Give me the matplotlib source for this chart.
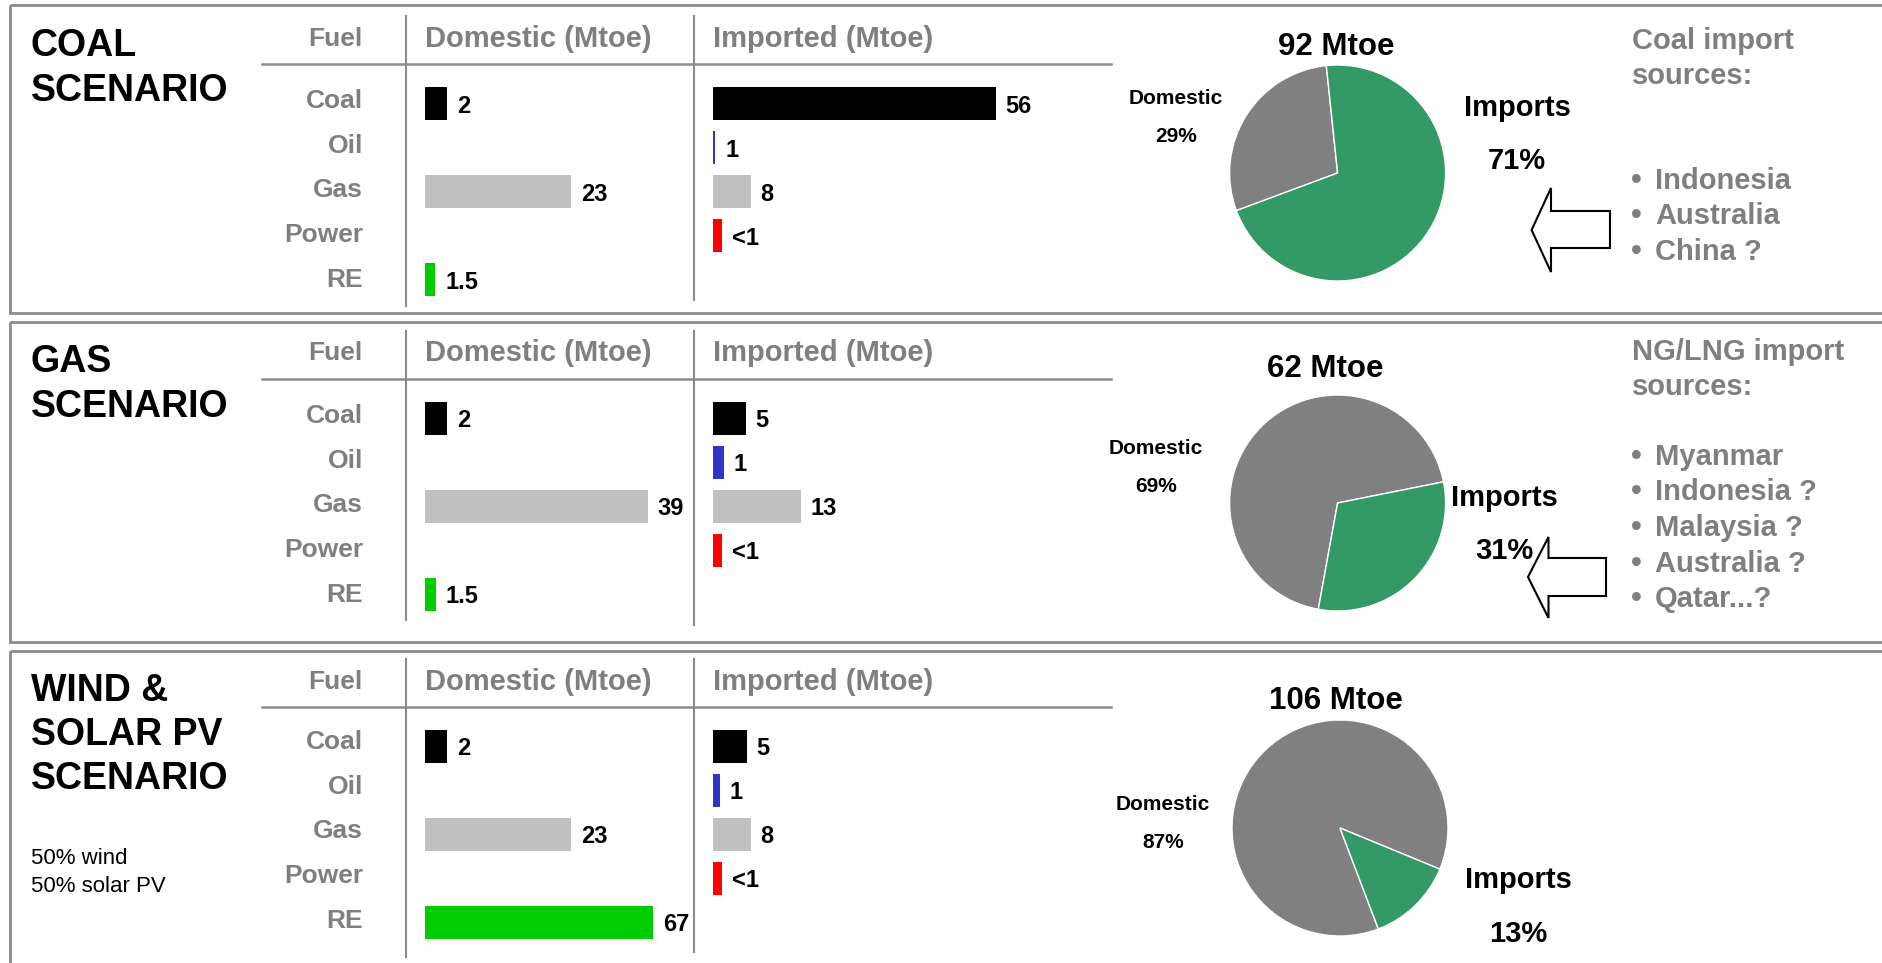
import matplotlib
matplotlib.use("Agg")
import matplotlib.pyplot as plt
from matplotlib.patches import Rectangle, Polygon

plt.rcParams['font.family'] = ['Liberation Sans', 'DejaVu Sans']

# ---- data ----
fuels = ["Coal", "Oil", "Gas", "Power", "RE"]
fuel_colors = ["#000000", "#3333cc", "#c0c0c0", "#ff0000", "#00cc00"]

titles = [["COAL", "SCENARIO"], ["GAS", "SCENARIO"], ["WIND &", "SOLAR PV", "SCENARIO"]]

# bar lengths as drawn (the slide does not draw them to one scale) and their labels
dom_len_coal = [4.4, 0, 29.2, 0, 2.1]
dom_len_gas = [4.4, 0, 44.6, 0, 2.2]
dom_len_wind = [4.4, 0, 29.2, 0, 45.6]
dom_txt_coal = ["2", "", "23", "", "1.5"]
dom_txt_gas = ["2", "", "39", "", "1.5"]
dom_txt_wind = ["2", "", "23", "", "67"]

imp_len_coal = [56.6, 0.5, 7.6, 1.8, 0]
imp_len_gas = [6.6, 2.2, 17.6, 1.8, 0]
imp_len_wind = [6.8, 1.4, 7.6, 1.8, 0]
imp_txt_coal = ["56", "1", "8", "<1", ""]
imp_txt_gas = ["5", "1", "13", "<1", ""]
imp_txt_wind = ["5", "1", "8", "<1", ""]

totals = [92, 62, 106]
dom_share = [29, 69, 87]
imp_share = [71, 31, 13]

coal_head = ["Coal import", "sources:"]
coal_sources = ["Indonesia", "Australia", "China ?"]
gas_head = ["NG/LNG import", "sources:"]
gas_sources = ["Myanmar", "Indonesia ?", "Malaysia ?", "Australia ?", "Qatar...?"]

dom_lens = [dom_len_coal, dom_len_gas, dom_len_wind]
dom_txts = [dom_txt_coal, dom_txt_gas, dom_txt_wind]
imp_lens = [imp_len_coal, imp_len_gas, imp_len_wind]
imp_txts = [imp_txt_coal, imp_txt_gas, imp_txt_wind]

# ---- layout (pixels) ----
W, H = 1883, 963
GRAY = "#7f7f7f"
LINE = "#8c8c8c"
GREEN = "#339966"
PIEGRAY = "#808080"
DY = 4  # matplotlib centres text on its full box, caps sit a bit high

panels = [
    dict(top=5, bot=313, ty=[42, 87], head=35, sep=64, v1=(16, 306), v2=(16, 300), row0=97, bar0=104,
         pie=(1337.6, 173), ptitle=(1336, 43), dlab=(1176, 94, 133), ilab=(1517, 104, 157), start=96),
    dict(top=322, bot=642, ty=[358, 403], head=349, sep=379, v1=(331, 620), v2=(331, 625), row0=412, bar0=418,
         pie=(1337.6, 503), ptitle=(1325, 365), dlab=(1156, 444, 482), ilab=(1504, 494, 547), start=11.3),
    dict(top=651, bot=990, ty=[687, 731, 775], head=678, sep=707, v1=(659, 957), v2=(659, 952), row0=738, bar0=746,
         pie=(1340, 828), ptitle=(1336, 697), dlab=(1163, 801, 839), ilab=(1518, 876, 930), start=-22.4),
]
ROW = 44
LROW = 44.7


def box(l, t, w, h):
    return [l / W, 1 - (t + h) / H, w / W, h / H]


fig = plt.figure(figsize=(W / 100, H / 100), dpi=100)
ov = fig.add_axes([0, 0, 1, 1])
ov.set_xlim(0, W)
ov.set_ylim(H, 0)
ov.axis('off')


def txt(x, y, s, **kw):
    kw.setdefault('va', 'center')
    kw.setdefault('fontweight', 'bold')
    ov.text(x, y + DY, s, **kw)


for k, p in enumerate(panels):
    # frame
    ov.add_patch(Rectangle((10.5, p['top']), W, p['bot'] - p['top'], fill=False,
                           edgecolor=LINE, lw=2, clip_on=False))
    # scenario title
    for j, line in enumerate(titles[k]):
        txt(31, p['ty'][j], line, fontsize=27, ha='left')
    # table headers and rules
    txt(363, p['head'], "Fuel", fontsize=19, color=GRAY, ha='right')
    txt(425, p['head'], "Domestic (Mtoe)", fontsize=21, color=GRAY, ha='left')
    txt(713, p['head'], "Imported (Mtoe)", fontsize=21, color=GRAY, ha='left')
    ov.plot([262, 1111], [p['sep'], p['sep']], color=LINE, lw=1.8)
    ov.plot([406, 406], p['v1'], color=LINE, lw=1.5)
    ov.plot([694, 694], p['v2'], color=LINE, lw=1.5)
    for i, f in enumerate(fuels):
        txt(363, p['row0'] + i * LROW, f, fontsize=19, color=GRAY, ha='right')

    # bar columns
    ytop = p['bar0'] - ROW / 2
    for left, width, xmax, lens, txts in [(425, 300, 60, dom_lens[k], dom_txts[k]),
                                          (713, 350, 70, imp_lens[k], imp_txts[k])]:
        ax = fig.add_axes(box(left, ytop, width, ROW * 5))
        ax.barh(range(len(fuels)), lens, height=0.75, color=fuel_colors)
        ax.set_xlim(0, xmax)
        ax.set_ylim(4.5, -0.5)
        ax.axis('off')
        for i, (v, t) in enumerate(zip(lens, txts)):
            if t:
                ax.annotate(t, (v, i), xytext=(7, -1.5), textcoords='offset points',
                            fontsize=17, fontweight='bold', ha='left', va='center')

    # pie
    cx, cy = p['pie']
    r = 108
    pax = fig.add_axes(box(cx - r, cy - r, 2 * r, 2 * r))
    pax.pie([dom_share[k], imp_share[k]], colors=[PIEGRAY, GREEN], startangle=p['start'],
            counterclock=True, wedgeprops=dict(edgecolor='white', linewidth=1))
    pax.set_xlim(-1, 1)
    pax.set_ylim(-1, 1)
    txt(p['ptitle'][0], p['ptitle'][1], f"{totals[k]} Mtoe", fontsize=22.5, ha='center')
    dx, dy1, dy2 = p['dlab']
    txt(dx, dy1, "Domestic", fontsize=15, ha='center')
    txt(dx, dy2, f"{dom_share[k]}%", fontsize=15, ha='center')
    ix, iy1, iy2 = p['ilab']
    txt(ix, iy1, "Imports", fontsize=21, ha='center')
    txt(ix, iy2, f"{imp_share[k]}%", fontsize=21, ha='center')

ov.text(31, 858, "50% wind", fontsize=16, ha='left', va='center')
ov.text(31, 887, "50% solar PV", fontsize=16, ha='left', va='center')

# import source lists with arrows
for head, items, hy, iy in [(coal_head, coal_sources, [37, 72], 177),
                            (gas_head, gas_sources, [348, 383], 453)]:
    for j, line in enumerate(head):
        txt(1632, hy[j], line, fontsize=21, color=GRAY, ha='left')
    for j, s in enumerate(items):
        y = iy + j * 35.5
        txt(1631, y, "•", fontsize=22, color=GRAY, ha='left')
        txt(1655, y, s, fontsize=21, color=GRAY, ha='left')

arrow_coal = [(1531.6, 230), (1551, 188), (1551, 211), (1610, 211), (1610, 248), (1551, 248), (1551, 272)]
arrow_gas = [(1528, 577), (1548.5, 537), (1548.5, 558), (1606, 558), (1606, 596), (1548.5, 596), (1548.5, 618)]
for pts in [arrow_coal, arrow_gas]:
    ov.add_patch(Polygon(pts, closed=True, facecolor='white', edgecolor='black', lw=1.5))

fig.savefig("out.png", dpi=100)
